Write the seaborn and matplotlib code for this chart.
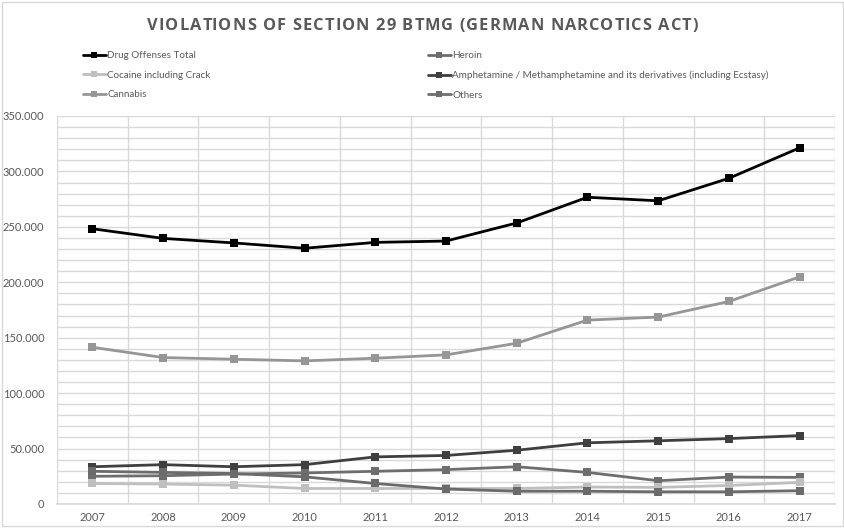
import matplotlib
matplotlib.use("Agg")
import matplotlib.pyplot as plt
import seaborn as sns
import pandas as pd
from matplotlib.ticker import FuncFormatter, MultipleLocator
from matplotlib.lines import Line2D
from matplotlib.patches import Rectangle

years = [2007, 2008, 2009, 2010, 2011, 2012, 2013, 2014, 2015, 2016, 2017]
total = [248300, 239600, 235500, 230700, 236000, 237200, 253500, 276700, 273500, 293800, 321300]
heroin = [29500, 28500, 27500, 24500, 18500, 13500, 11500, 11500, 11000, 11000, 12000]
cocaine = [18500, 18000, 17000, 14000, 14000, 14000, 14000, 15300, 15000, 16700, 19500]
amphet = [33600, 35500, 33600, 35500, 42500, 43800, 48500, 55200, 57000, 59000, 61700]
cannabis = [141400, 132100, 130600, 129100, 131500, 134500, 145000, 165900, 168600, 182700, 204900]
others = [25000, 25500, 27000, 28000, 29500, 31000, 33600, 28500, 21000, 24300, 24000]

names = ["Drug Offenses Total", "Heroin", "Cocaine including Crack",
         "Amphetamine / Methamphetamine and its derivatives (including Ecstasy)",
         "Cannabis", "Others"]
series = [total, heroin, cocaine, amphet, cannabis, others]
colors = ["#000000", "#6b6b6b", "#bfbfbf", "#3f3f3f", "#969696", "#6e6e6e"]
title = "VIOLATIONS OF SECTION 29 BTMG (GERMAN NARCOTICS ACT)"

rows = []
for n, s in zip(names, series):
    for i, (y, v) in enumerate(zip(years, s)):
        rows.append({"idx": i, "year": y, "value": v, "series": n})
df = pd.DataFrame(rows)

sns.set_theme(style="white")
plt.rcParams['font.family'] = ['Lato', 'DejaVu Sans']

W, H = 845, 528
fig = plt.figure(figsize=(W / 100, H / 100), dpi=100)
ax = fig.add_axes([57 / W, 1 - 504 / H, (835 - 57) / W, (504 - 116) / H])
renderer = fig.canvas.get_renderer()

def width_px(s, **kw):
    t = fig.text(0, 0, s, **kw)
    w = t.get_window_extent(renderer).width
    t.remove()
    return w

pal = dict(zip(names, colors))
for n in names[::-1]:
    sub = df[df.series == n]
    sns.lineplot(data=sub, x="idx", y="value", color=pal[n], marker="s",
                 markersize=6, markeredgewidth=0, linewidth=2, ax=ax,
                 legend=False)

ax.set_xlim(-0.5, 10.5)
ax.set_ylim(0, 350000)
ax.yaxis.set_major_locator(MultipleLocator(50000))
ax.yaxis.set_minor_locator(MultipleLocator(10000))
ax.yaxis.set_major_formatter(FuncFormatter(
    lambda v, p: "0" if v == 0 else f"{int(v):,}".replace(",", ".")))
ax.set_xticks(range(len(years)))
ax.set_xticklabels([str(y) for y in years])
ax.set_xticks([i - 0.5 for i in range(len(years) + 1)], minor=True)
ax.grid(which="both", axis="y", color="#d9d9d9", linewidth=1)
ax.grid(which="minor", axis="x", color="#d9d9d9", linewidth=1)
ax.grid(which="major", axis="x", visible=False)
ax.set_axisbelow(True)
for sp in ["top", "right", "left"]:
    ax.spines[sp].set_visible(False)
ax.spines["bottom"].set_color("#d9d9d9")
ax.tick_params(axis="both", which="both", length=0, labelsize=8, colors="#595959")
ax.tick_params(axis="x", pad=6)
ax.tick_params(axis="y", pad=9)
ax.set_xlabel("")
ax.set_ylabel("")

# letter-spaced title laid out character by character
tkw = dict(fontsize=11.8, color="#595959", fontweight="bold", va="center", ha="left",
           family=['Open Sans', 'DejaVu Sans'])
ref_w = width_px("I", **tkw)
offsets = [width_px(title[:i] + "I", **tkw) - ref_w for i in range(len(title))]
natural = width_px(title, **tkw)
x0, x1 = 147, 698
spacing = ((x1 - x0) - natural) / (len(title) - 1)
ty = 1 - 26 / H
for i, ch in enumerate(title):
    if ch == " ":
        continue
    fig.text((x0 + offsets[i] + i * spacing) / W, ty, ch, **tkw)

# legend font size fitted so the longest label spans ~316 px
fs = 8.0 * 316 / width_px(names[3], fontsize=8.0)
fpx = fs * 100 / 72

def handle(c):
    return Line2D([0], [0], color=c, linewidth=2, marker="s", markersize=5, markeredgewidth=0)

col1 = [0, 2, 4]
col2 = [1, 3, 5]
for cols, x in [(col1, 83 / W), (col2, 428 / W)]:
    leg = fig.legend([handle(colors[i]) for i in cols], [names[i] for i in cols],
                     loc="upper left", bbox_to_anchor=(x, 1 - 51 / H), frameon=False,
                     fontsize=fs, handlelength=23 / fpx, handletextpad=0.15,
                     labelspacing=(21 - fpx * 1.05) / fpx,
                     borderaxespad=0, borderpad=0)
    for t in leg.get_texts():
        t.set_color("#595959")

fig.patches.append(Rectangle((2 / W, 2 / H), 841 / W, 524 / H, transform=fig.transFigure,
                             fill=False, edgecolor="#d9d9d9", linewidth=1))

fig.savefig("out.png", dpi=100)
